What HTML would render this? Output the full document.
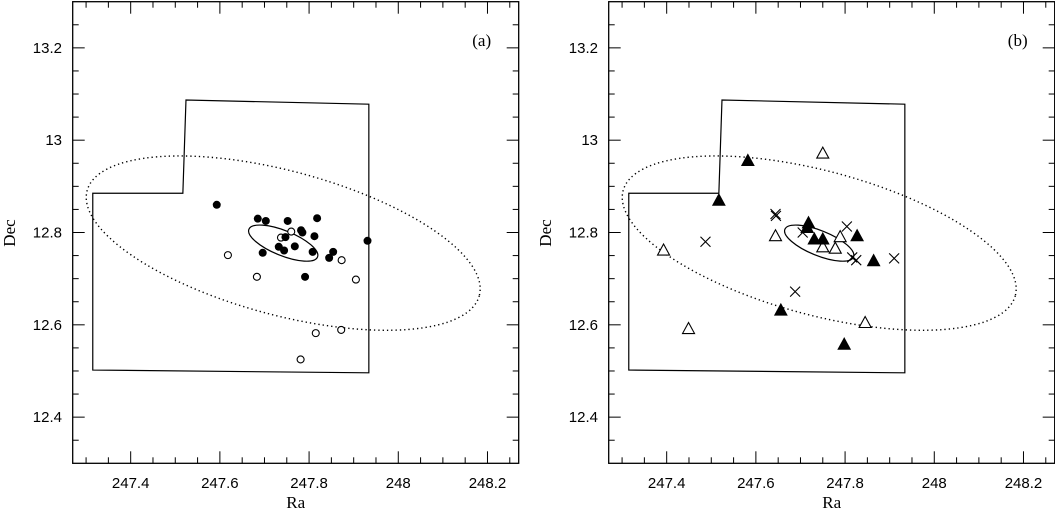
<!DOCTYPE html>
<html><head><meta charset="utf-8"><style>
html,body{margin:0;padding:0;background:#fff;}
svg{display:block;}
text{font-family:"Liberation Sans",sans-serif;font-size:15px;fill:#000;}
.serif{font-family:"Liberation Serif",serif;font-size:17px;}
</style></head><body>
<svg id="chart" width="1055" height="510" viewBox="0 0 1055 510" xmlns="http://www.w3.org/2000/svg"></svg>
<script>
const xTicks = [247.4, 247.6, 247.8, 248, 248.2];
const xTickLabels = ["247.4", "247.6", "247.8", "248", "248.2"];
const yTicks = [12.4, 12.6, 12.8, 13, 13.2];
const yTickLabels = ["12.4", "12.6", "12.8", "13", "13.2"];
const fieldRa  = [247.315, 247.517, 247.524, 247.934, 247.934, 247.315];
const fieldDec = [12.885, 12.885, 13.087, 13.078, 12.496, 12.502];
const ellCenterRa = 247.742, ellCenterDec = 12.777;
const aFilledRa  = [247.593,247.685,247.703,247.752,247.818,247.782,247.785,247.812,247.747,247.732,247.744,247.768,247.808,247.696,247.854,247.845,247.791,247.931];
const aFilledDec = [12.860,12.830,12.825,12.825,12.831,12.805,12.800,12.792,12.790,12.769,12.761,12.770,12.758,12.756,12.758,12.745,12.704,12.782];
const aOpenRa  = [247.760,247.737,247.618,247.873,247.683,247.905,247.815,247.872,247.781];
const aOpenDec = [12.802,12.789,12.751,12.740,12.704,12.698,12.582,12.589,12.525];
const bFilledRa  = [247.582,247.517,247.718,247.715,247.731,247.750,247.827,247.864,247.656,247.798];
const bFilledDec = [12.956,12.870,12.821,12.811,12.786,12.786,12.793,12.739,12.632,12.558];
const bOpenRa  = [247.750,247.644,247.789,247.750,247.778,247.845,247.393,247.449];
const bOpenDec = [12.972,12.793,12.791,12.769,12.766,12.605,12.762,12.592];
const bCrossRa  = [247.645,247.644,247.705,247.804,247.816,247.825,247.910,247.688,247.487];
const bCrossDec = [12.836,12.840,12.800,12.813,12.746,12.740,12.744,12.672,12.780];

const NS="http://www.w3.org/2000/svg";
const svg=document.getElementById('chart');
const X0=247.27, PXU=446, Y1=13.3, PYU=461.6, TOP=1.7, W=446, H=461.6;
function mk(tag,attrs,parent){const e=document.createElementNS(NS,tag);for(const k in attrs)e.setAttribute(k,attrs[k]);(parent||svg).appendChild(e);return e;}

function panel(off,label,name){
  const g=mk('g',{transform:'translate('+off+',0)'});
  
  
  const L=72.7;
  const sx=v=>L+(v-X0)*PXU;
  const sy=v=>TOP+(Y1-v)*PYU;
  const frame=mk('rect',{x:L,y:TOP,width:W,height:H,fill:'none',stroke:'#000','stroke-width':1.3},g);
  
  
  // minor & major ticks x
  for(let v=247.3;v<248.3;v+=0.05){
    const vv=Math.round(v*100)/100; const major=Math.abs(vv*5-Math.round(vv*5))<1e-6;
    const len=major?12:6; const px=sx(vv);
    mk('line',{x1:px,x2:px,y1:TOP+H,y2:TOP+H-len,stroke:'#000','stroke-width':1},g);
    mk('line',{x1:px,x2:px,y1:TOP,y2:TOP+len,stroke:'#000','stroke-width':1},g);
  }
  for(let v=12.35;v<13.3;v+=0.05){
    const vv=Math.round(v*100)/100; const major=Math.abs(vv*5-Math.round(vv*5))<1e-6;
    const len=major?12:6; const py=sy(vv);
    mk('line',{x1:L,x2:L+len,y1:py,y2:py,stroke:'#000','stroke-width':1},g);
    mk('line',{x1:L+W,x2:L+W-len,y1:py,y2:py,stroke:'#000','stroke-width':1},g);
  }
  xTicks.forEach((v,i)=>{const t=mk('text',{x:sx(v),y:488,'text-anchor':'middle'},g);t.textContent=xTickLabels[i];
    
    });
  yTicks.forEach((v,i)=>{const t=mk('text',{x:62,y:sy(v)+5,'text-anchor':'end'},g);t.textContent=yTickLabels[i];
    
    });
  const xt=mk('text',{x:L+W/2,y:508,'text-anchor':'middle','class':'serif'},g);xt.textContent='Ra';
  
  
  const yt=mk('text',{x:0,y:0,'text-anchor':'middle','class':'serif',transform:'translate(15,233) rotate(-90)'},g);yt.textContent='Dec';
  
  
  const pl=mk('text',{x:L+W-37,y:46,'text-anchor':'middle','class':'serif'},g);pl.textContent=label;
  
  
  const pts=fieldRa.map((r,i)=>sx(r)+','+sy(fieldDec[i])).join(' ');
  const poly=mk('polygon',{points:pts,fill:'none',stroke:'#000','stroke-width':1.2},g);
  
  
  const cx=sx(ellCenterRa), cy=sy(ellCenterDec);
  const e1=mk('ellipse',{cx:cx,cy:cy,rx:203,ry:72,fill:'none',stroke:'#000','stroke-width':1.4,'stroke-dasharray':'1.3 3',transform:'rotate(15 '+cx+' '+cy+')'},g);
  
  
  const e2=mk('ellipse',{cx:cx,cy:cy,rx:37,ry:12.5,fill:'none',stroke:'#000','stroke-width':1.2,transform:'rotate(22 '+cx+' '+cy+')'},g);
  
  
  return {g,sx,sy};
}

const A=panel(0,'(a)','panel-a');
aOpenRa.forEach((r,i)=>{const c=mk('circle',{cx:A.sx(r),cy:A.sy(aOpenDec[i]),r:3.5,fill:'#fff',stroke:'#000','stroke-width':1.1},A.g);
  
  });
aFilledRa.forEach((r,i)=>{const c=mk('circle',{cx:A.sx(r),cy:A.sy(aFilledDec[i]),r:4,fill:'#000'},A.g);
  
  });

const B=panel(536,'(b)','panel-b');
function tri(x,y,filled){return mk('polygon',{points:(x)+','+(y-6)+' '+(x-6)+','+(y+5)+' '+(x+6)+','+(y+5),fill:filled?'#000':'#fff',stroke:'#000','stroke-width':1.1},B.g);}
bOpenRa.forEach((r,i)=>{const t=tri(B.sx(r),B.sy(bOpenDec[i]),false);
  
  });
bFilledRa.forEach((r,i)=>{const t=tri(B.sx(r),B.sy(bFilledDec[i]),true);
  
  });
bCrossRa.forEach((r,i)=>{const x=B.sx(r),y=B.sy(bCrossDec[i]),s=5;
  const p=mk('path',{d:'M'+(x-s)+' '+(y-s)+'L'+(x+s)+' '+(y+s)+'M'+(x-s)+' '+(y+s)+'L'+(x+s)+' '+(y-s),stroke:'#000','stroke-width':1.1,fill:'none'},B.g);
  
  });
</script>
</body></html>
